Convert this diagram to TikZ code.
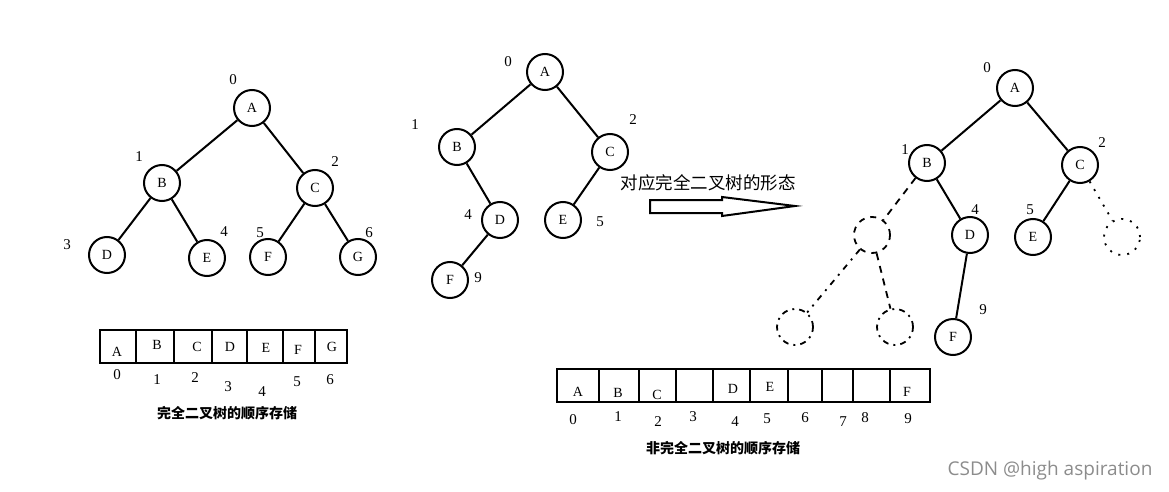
\documentclass[tikz,border=0pt]{standalone}
\usepackage{fontspec}
\setmainfont{Liberation Serif}
\setsansfont{Open Sans}
\newfontfamily\cjk{Noto Sans CJK SC}
\usetikzlibrary{positioning}
\tikzset{
    %Define style for tree nodes
    knot/.style={
           circle,
           draw=black, line width=2pt,
           minimum size=36pt,
           inner sep=0pt,
           font=\fontsize{14}{14}\selectfont,
           text centered},
    %Define style for missing nodes
    ghost/.style={
           circle,
           draw=black, line width=1.8pt,
           dash pattern=on 6pt off 6pt,
           minimum size=36pt,
           inner sep=0pt},
    idx/.style={
           inner sep=0pt,
           font=\fontsize{15}{15}\selectfont},
    arrcell/.style={
           draw=black, line width=2.2pt},
    capt/.style={
           inner sep=0pt,
           font=\cjk\bfseries\fontsize{14}{14}\selectfont},
    % Define edge styles
    branch/.style={
           line width=2pt},
    voidbranch/.style={
           line width=1.8pt,
           dash pattern=on 7pt off 6pt},
}

\begin{document}
\begin{tikzpicture}[x=1pt,y=-1pt,on grid]
\useasboundingbox (0,0) rectangle (1169,492);

 %left tree
\node[knot] (l0) at (252,108) {A};
\node[knot, below left=75pt and 90pt of l0] (l1) {B};
\node[knot, below right=80pt and 63pt of l0] (l2) {C};
\node[knot, below left=72pt and 55pt of l1] (l3) {D};
\node[knot, below right=75pt and 45pt of l1] (l4) {E};
\node[knot, below left=69pt and 47pt of l2] (l5) {F};
\node[knot, below right=69pt and 43pt of l2] (l6) {G};
\foreach \n/\dx/\dy in {0/-19/-28,1/-23/-26,2/20/-26,3/-40/-10,4/17/-26,5/-8/-24,6/11/-24}
  \node[idx] (l\n i) at ([shift={(\dx,\dy)}]l\n) {\n};

\path[branch]
    (l0) edge (l1)
    (l0) edge (l2)
    (l1) edge (l3)
    (l1) edge (l4)
    (l2) edge (l5)
    (l2) edge (l6);

 %left array
\draw[arrcell] (100,330) rectangle (347,363);
\foreach \x in {136,174,212,247,283,315}
  \draw[arrcell] (\x,330) -- (\x,363);
\foreach \t/\x/\y [count=\i] in {A/117/352,B/157/345,C/197/347,D/230/347,E/266/348,F/298/350,G/332/347}
  \node[idx, font=\fontsize{14}{14}\selectfont] (la\i) at (\x,\y) {\t};
\foreach \t/\x/\y in {0/117/375,1/157/380,2/195/378,3/228/387,4/262/392,5/297/382,6/330/380}
  \node[idx] (lx\t) at (\x,\y) {\t};
\node[capt] (lcap) at (227,413) {完全二叉树的顺序存储};

 %middle tree
\node[knot] (m0) at (545,72) {A};
\node[knot, below left=75pt and 88pt of m0] (m1) {B};
\node[knot, below right=80pt and 65pt of m0] (m2) {C};
\node[knot, below right=73pt and 43pt of m1] (m4) {D};
\node[knot, below left=68pt and 47pt of m2] (m5) {E};
\node[knot, below left=60pt and 50pt of m4] (m9) {F};
\foreach \n/\dx/\dy in {0/-37/-10,1/-42/-22,2/23/-32,4/-32/-5,5/37/2,9/28/-2}
  \node[idx] (m\n i) at ([shift={(\dx,\dy)}]m\n) {\n};

\path[branch]
    (m0) edge (m1)
    (m0) edge (m2)
    (m1) edge (m4)
    (m2) edge (m5)
    (m4) edge (m9);

 %hollow arrow
\node[inner sep=0pt, font=\cjk\fontsize{17.5}{17.5}\selectfont] (note) at (708,183) {对应完全二叉树的形态};
\draw[line width=2pt, line join=miter]
    (650,200) -- (722,200) -- (722,197) -- (795,206) -- (722,216) -- (722,213) -- (650,213) -- cycle;

 %right tree
\node[knot] (r0) at (1015,88) {A};
\node[knot, below left=75pt and 88pt of r0] (r1) {B};
\node[knot, below right=77pt and 65pt of r0] (r2) {C};
\node[ghost, below left=72pt and 55pt of r1] (r3) {};
\node[knot, below right=72pt and 43pt of r1] (r4) {D};
\node[knot, below left=72pt and 47pt of r2] (r5) {E};
\node[ghost, below right=72pt and 42pt of r2, dash pattern=on 2pt off 7pt] (r6) {};
\node[ghost, below left=92pt and 77pt of r3, dash pattern=on 6pt off 5pt on 2pt off 5pt] (r7) {};
\node[ghost, below right=92pt and 23pt of r3, dash pattern=on 6pt off 5pt on 2pt off 5pt] (r8) {};
\node[knot, below left=102pt and 17pt of r4] (r9) {F};
\foreach \n/\dx/\dy in {0/-28/-20,1/-22/-13,2/22/-22,4/5/-25,5/-3/-27,9/30/-27}
  \node[idx] (r\n i) at ([shift={(\dx,\dy)}]r\n) {\n};

\path[branch]
    (r0) edge (r1)
    (r0) edge (r2)
    (r1) edge (r4)
    (r2) edge (r5)
    (r4) edge (r9);
\path[voidbranch]
    (r1) edge (r3)
    (r3) edge (r8)
    (r3) edge[dash pattern=on 6pt off 6pt on 2pt off 6pt] (r7)
    (r2) edge[dash pattern=on 2pt off 7pt] (r6);

 %right array
\draw[arrcell] (557,369) rectangle (930,402);
\foreach \x in {599,639,676,713,750,788,822,853,890}
  \draw[arrcell] (\x,369) -- (\x,402);
\foreach \t/\x/\y [count=\i] in {A/578/392,B/618/393,C/657/395,D/733/389,E/770/387,F/907/392}
  \node[idx, font=\fontsize{14}{14}\selectfont] (ra\i) at (\x,\y) {\t};
\foreach \t/\x/\y in {0/573/420,1/618/417,2/658/422,3/693/417,4/735/422,5/767/419,6/805/418,7/843/422,8/865/418,9/908/419}
  \node[idx] (rx\t) at (\x,\y) {\t};
\node[capt] (rcap) at (723,448) {非完全二叉树的顺序存储};

\node[inner sep=0pt, text=black!45, font=\sffamily\fontsize{19}{19}\selectfont] (mark) at (1050,471) {CSDN @high aspiration};

\end{tikzpicture}
\end{document}
